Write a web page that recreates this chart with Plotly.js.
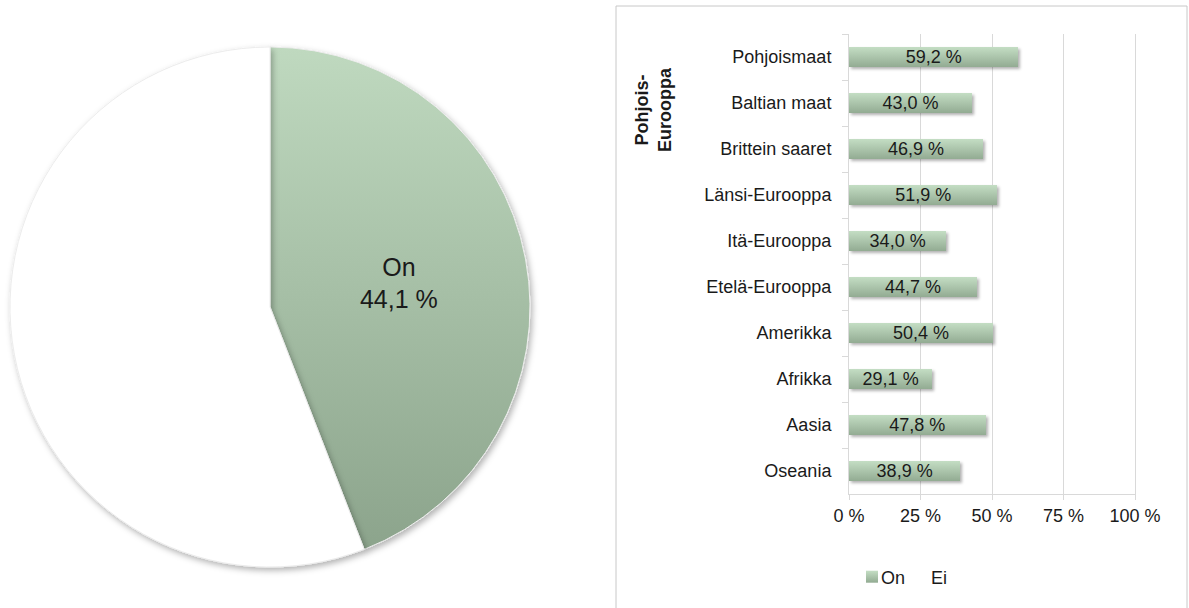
<!DOCTYPE html>
<html><head><meta charset="utf-8">
<script src="https://cdn.plot.ly/plotly-3.0.1.min.js"></script>
<style>html,body{margin:0;padding:0;background:#fff}#chart{width:1189px;height:608px}</style>
</head><body><div id="chart"></div>
<script>
// ---- data ----
const pieLabels = ['On', 'Ei'];
const pieValues = [44.1, 55.9];
const regions = ['Pohjoismaat','Baltian maat','Brittein saaret','Länsi-Eurooppa','Itä-Eurooppa','Etelä-Eurooppa','Amerikka','Afrikka','Aasia','Oseania'];
const onValues = [59.2, 43.0, 46.9, 51.9, 34.0, 44.7, 50.4, 29.1, 47.8, 38.9];
const eiValues = [40.8, 57.0, 53.1, 48.1, 66.0, 55.3, 49.6, 70.9, 52.2, 61.1];
const xTicks = [0, 25, 50, 75, 100];
const xTickText = ['0 %', '25 %', '50 %', '75 %', '100 %'];
const groupLabel = 'Pohjois-<br>Eurooppa';

const W = 1189, H = 608;
const px = x => x / W, py = y => 1 - y / H;
const fmt = v => v.toFixed(1).replace('.', ',') + ' %';
const FONT = '"Liberation Sans", Arial, sans-serif';

const data = [
  {
    type: 'pie', labels: pieLabels, values: pieValues, sort: false,
    direction: 'clockwise', rotation: 0, showlegend: false,
    domain: {x: [px(10), px(530)], y: [py(567), py(47)]},
    marker: {colors: ['#a7c2a7', '#ffffff'], line: {color: '#ececec', width: 1}},
    text: pieLabels.map((l, i) => i === 0 ? l + '<br>' + fmt(pieValues[i]) : ''),
    textinfo: 'text', textposition: 'inside', insidetextorientation: 'horizontal',
    textfont: {size: 25, color: '#1a1a1a', family: FONT}, hoverinfo: 'skip'
  },
  {
    type: 'bar', orientation: 'h', name: 'On', y: regions, x: onValues,
    marker: {color: '#a9c4a9'},
    text: onValues.map(fmt), textposition: 'inside', insidetextanchor: 'middle',
    constraintext: 'none', textfont: {size: 18, color: '#1a1a1a', family: FONT},
    hoverinfo: 'skip'
  },
  {
    type: 'bar', orientation: 'h', name: 'Ei', y: regions, x: eiValues,
    marker: {color: 'rgba(255,255,255,0)', line: {width: 0}},
    textposition: 'none', hoverinfo: 'skip'
  }
];

const layout = {
  width: W, height: H, margin: {l: 0, r: 0, t: 0, b: 0},
  paper_bgcolor: '#ffffff', plot_bgcolor: 'rgba(0,0,0,0)',
  font: {family: FONT, size: 18, color: '#1a1a1a'},
  barmode: 'stack', bargap: 0.56,
  xaxis: {
    domain: [px(849), px(1136)], range: [0, 100.35], tickvals: xTicks, ticktext: xTickText,
    showgrid: true, gridcolor: '#d9d9d9', gridwidth: 1, zeroline: false,
    showline: true, linecolor: '#d9d9d9', ticks: 'outside', ticklen: 5, tickcolor: '#d9d9d9',
    ticklabelstandoff: 0, tickfont: {size: 18, color: '#1a1a1a'}, fixedrange: true
  },
  yaxis: {
    domain: [py(494), py(34)], type: 'category', autorange: 'reversed',
    ticks: 'outside', tickson: 'boundaries', ticklen: 6, tickcolor: '#d9d9d9',
    showline: true, linecolor: '#d9d9d9', showgrid: false, ticklabelstandoff: 13,
    tickfont: {size: 18, color: '#1a1a1a'}, fixedrange: true
  },
  showlegend: true,
  legend: {
    orientation: 'h', x: px(841), xanchor: 'left', y: py(577), yanchor: 'middle',
    font: {size: 18, color: '#1a1a1a'}, itemwidth: 30, entrywidth: 5, entrywidthmode: 'pixels',
    bgcolor: 'rgba(0,0,0,0)', traceorder: 'normal'
  },
  annotations: [{
    text: '<b>' + groupLabel + '</b>', textangle: -90, xref: 'paper', yref: 'paper',
    x: px(653), y: py(110), xanchor: 'center', yanchor: 'middle', showarrow: false,
    font: {size: 18, color: '#1a1a1a'}, align: 'center'
  }],
  shapes: [{
    type: 'rect', xref: 'paper', yref: 'paper', x0: px(616), x1: px(1187), y0: -0.05, y1: py(6),
    line: {color: '#c8c8c8', width: 1}, fillcolor: 'rgba(0,0,0,0)', layer: 'below'
  }]
};

Plotly.newPlot('chart', data, layout, {staticPlot: true}).then(gd => {
  const svg = gd.querySelector('.main-svg');
  let defs = svg.querySelector('defs');
  defs.insertAdjacentHTML('beforeend',
    '<linearGradient id="gPie" x1="0" y1="0" x2="0" y2="1"><stop offset="0" stop-color="#bfd9bf"/><stop offset="1" stop-color="#8ca48c"/></linearGradient>' +
    '<linearGradient id="gBar" x1="0" y1="0" x2="0" y2="1"><stop offset="0" stop-color="#c4dec4"/><stop offset="1" stop-color="#92ab92"/></linearGradient>' +
    '<filter id="shPie" x="-10%" y="-10%" width="130%" height="130%"><feDropShadow dx="2" dy="3" stdDeviation="3" flood-color="#000" flood-opacity="0.3"/></filter>' +
    '<filter id="shBar" x="-10%" y="-30%" width="130%" height="190%"><feDropShadow dx="2" dy="2" stdDeviation="1.5" flood-color="#000" flood-opacity="0.3"/></filter>');
  const slices = gd.querySelectorAll('.pielayer .slice path.surface');
  slices.forEach((p, i) => {
    if (i === 0) p.style.fill = 'url(#gPie)';
    p.setAttribute('filter', 'url(#shPie)');
  });
  const barTraces = gd.querySelectorAll('.barlayer .trace');
  if (barTraces[0]) barTraces[0].querySelectorAll('.point path').forEach(p => {
    p.style.fill = 'url(#gBar)';
    p.setAttribute('filter', 'url(#shBar)');
  });
  gd.querySelectorAll('.legend [clip-path]').forEach(el => el.removeAttribute('clip-path'));
  const legTraces = gd.querySelectorAll('.legend .traces');
  legTraces.forEach((t, i) => {
    const lp = t.querySelector('.legendpoints');
    if (lp) lp.setAttribute('transform', 'translate(11,0)');
    if (i === 0) t.querySelectorAll('.legendpoints path').forEach(p => { p.style.fill = 'url(#gBar)'; });
  });
});
</script>
</body></html>
